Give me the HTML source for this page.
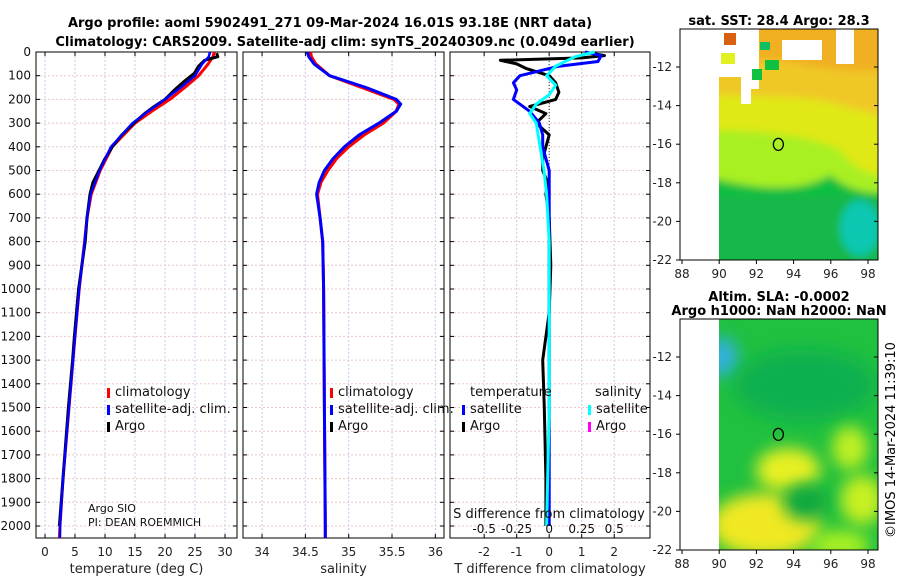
<!DOCTYPE html>
<html><head><meta charset="utf-8"><style>
body{margin:0;background:#fff;font-family:"Liberation Sans","DejaVu Sans",sans-serif}
svg text{font-family:"DejaVu Sans","Liberation Sans",sans-serif}
</style></head><body>
<svg id="c" width="900" height="580" xmlns="http://www.w3.org/2000/svg">
<defs>
<filter id="bl" x="-50%" y="-50%" width="200%" height="200%"><feGaussianBlur stdDeviation="8"/></filter>
<filter id="bs" x="-10%" y="-10%" width="120%" height="120%"><feGaussianBlur stdDeviation="4"/></filter>
<clipPath id="m1"><rect x="719" y="29" width="159" height="231"/></clipPath>
<clipPath id="m2"><rect x="719" y="319" width="159" height="231"/></clipPath>
</defs>
<text x="330" y="27" font-size="13" font-weight="bold" text-anchor="middle">Argo profile: aoml 5902491_271 09-Mar-2024 16.01S 93.18E (NRT data)</text>
<text x="345" y="46" font-size="13" font-weight="bold" text-anchor="middle">Climatology: CARS2009. Satellite-adj clim: synTS_20240309.nc (0.049d earlier)</text>
<g id="panels"></g>
<g id="maps"></g>
</svg>
<script>
// ---- data ----
const depthT = [0,20,50,100,150,200,250,300,400,500,600,700,800,1000,1200,1500,1800,2000,2050];
const climTemp = [28.2,28.0,27.2,25.6,23.3,20.8,17.8,15.0,11.2,9.2,7.7,7.0,6.6,5.7,5.0,4.0,3.0,2.5,2.4];
const satTemp  = [27.5,27.3,26.2,25.0,22.6,20.0,17.2,14.6,11.0,9.1,7.6,7.0,6.6,5.7,5.0,4.0,3.0,2.5,2.5];
const argoDepth = [5,20,35,60,90,120,160,200,230,260,300,350,400,450,500,550,600,700,800,1000,1200,1300,1500,1800,2000];
const argoTemp = [28.6,28.8,26.6,25.6,24.9,23.4,21.6,20.0,18.2,16.6,14.8,12.8,11.2,10.0,9.0,8.0,7.5,7.0,6.7,5.6,4.9,4.6,3.9,3.0,2.4];
const depthS = [0,20,50,100,150,200,220,250,300,350,400,450,500,550,600,700,800,1000,1500,2000,2050];
const climSal = [34.56,34.57,34.62,34.78,35.15,35.52,35.58,35.55,35.40,35.18,35.00,34.86,34.76,34.68,34.64,34.67,34.70,34.71,34.72,34.73,34.73];
const satSal  = [34.52,34.54,34.6,34.78,35.2,35.55,35.6,35.55,35.35,35.12,34.95,34.82,34.72,34.66,34.63,34.67,34.70,34.71,34.72,34.73,34.73];
const argoSal = [34.55,34.56,34.61,34.77,35.15,35.52,35.58,35.54,35.38,35.15,34.97,34.84,34.74,34.67,34.64,34.67,34.70,34.71,34.72,34.73,34.73];
const diffDepthB = [0,15,40,60,100,130,160,200,250,300,350,400,450,500,600,700,1000,1500,2000];
const diffTsat = [1.1,1.6,1.5,0.3,-0.9,-1.1,-1.0,-1.1,-0.6,-0.3,-0.2,-0.2,-0.1,0.0,0.0,0.0,0.0,0.0,0.0];
const diffDepthK = [5,15,25,35,50,70,100,130,170,200,230,260,300,350,400,450,500,550,600,700,900,1100,1300,1500,1800,2000];
const diffTargo = [1.3,1.7,1.0,-1.5,-1.0,-0.7,0.0,0.2,0.3,0.2,-0.6,-0.1,-0.4,0.0,-0.1,-0.2,-0.2,-0.05,-0.1,0.0,0.05,0.0,-0.2,-0.15,-0.1,-0.1];
const diffDepthC = [0,20,60,100,140,180,220,260,300,400,500,600,800,1000,1500,2000];
const diffSsat = [0.35,0.2,0.05,-0.02,0.05,0.0,-0.1,-0.15,-0.1,-0.07,-0.04,-0.02,0.0,0.0,0.0,-0.02];
const depthTicks = [0,100,200,300,400,500,600,700,800,900,1000,1100,1200,1300,1400,1500,1600,1700,1800,1900,2000];
const tempTicks = [0,5,10,15,20,25,30];
const salTicks = [34,34.5,35,35.5,36];
const tdTicks = [-2,-1,0,1,2];
const sdTicks = [-0.5,-0.25,0,0.25,0.5];
const sdTickLabels = ['-0.5','-0.25','0','0.25','0.5'];
const latTicks = [-12,-14,-16,-18,-20,-22];
const lonTicks = [88,90,92,94,96,98];

const NS='http://www.w3.org/2000/svg';
const P=document.getElementById('panels');
function el(t,a,p){const e=document.createElementNS(NS,t);for(const k in a)e.setAttribute(k,a[k]);(p||P).appendChild(e);return e;}
const Y=d=>52+d*0.237;
const top0=52, bot=538;
function panel(x0,x1,xmin,xmax,ticks,labels,xlabel,name){
  const X=v=>x0+(v-xmin)/(xmax-xmin)*(x1-x0);
  const g=el('g',{});
  
  
  ticks.forEach(t=>{el('line',{x1:X(t),x2:X(t),y1:top0,y2:bot,stroke:'#c8c8f0','stroke-width':1,'stroke-dasharray':'2,2'},g);
    el('line',{x1:X(t),x2:X(t),y1:bot,y2:bot-4,stroke:'#000'},g);el('line',{x1:X(t),x2:X(t),y1:top0,y2:top0+4,stroke:'#000'},g);});
  depthTicks.forEach(d=>{el('line',{x1:x0,x2:x1,y1:Y(d),y2:Y(d),stroke:'#e8c8c8','stroke-width':1,'stroke-dasharray':'2,2'},g);
    el('line',{x1:x0,x2:x0+4,y1:Y(d),y2:Y(d),stroke:'#000'},g);el('line',{x1:x1-4,x2:x1,y1:Y(d),y2:Y(d),stroke:'#000'},g);});
  el('rect',{x:x0,y:top0,width:x1-x0,height:bot-top0,fill:'none',stroke:'#000'},g);
  ticks.forEach((t,i)=>{const tx=el('text',{x:X(t),y:556,'font-size':12,'text-anchor':'middle',fill:'#222'},g);tx.textContent=labels[i];});
  const xl=el('text',{x:(x0+x1)/2,y:573,'font-size':13,'text-anchor':'middle',fill:'#222'},g);xl.textContent=xlabel;
  return X;
}
function line(X,ds,vs,col,w,name){
  const pts=ds.map((d,i)=>X(vs[i]).toFixed(1)+','+Y(d).toFixed(1)).join(' ');
  const e=el('polyline',{points:pts,fill:'none',stroke:col,'stroke-width':w,'stroke-linejoin':'round'});
  
  
}
function txt(x,y,s,size,name,anchor){const t=el('text',{x:x,y:y,'font-size':size,'text-anchor':anchor||'start',fill:'#111'});t.textContent=s;
  
  return t;}
depthTicks.forEach(d=>{txt(31,Y(d)+4,String(d),12,'depth-tick-label','end');});
const X1=panel(36,237,-1.5,32,tempTicks,tempTicks.map(String),'temperature (deg C)','temperature-panel');
line(X1,depthT,climTemp,'#f00',3,'temp-climatology-line');
line(X1,argoDepth,argoTemp,'#000',3,'temp-argo-line');
line(X1,depthT,satTemp,'#00f',2.5,'temp-satellite-line');
const X2=panel(243,444,33.78,36.1,salTicks,salTicks.map(String),'salinity','salinity-panel');
line(X2,depthS.slice(0,-1),argoSal.slice(0,-1),'#000',2,'sal-argo-line');
line(X2,depthS,climSal,'#f00',3,'sal-climatology-line');
line(X2,depthS,satSal,'#00f',3,'sal-satellite-line');
const X3=panel(450,650,-3.05,3.1,tdTicks,tdTicks.map(String),'T difference from climatology','difference-panel');
const XS=v=>X3(v*4);
el('line',{x1:X3(0),x2:X3(0),y1:top0,y2:Y(2000),stroke:'#333','stroke-dasharray':'1,2'});
line(X3,diffDepthK,diffTargo,'#000',3,'tdiff-argo-line');
line(X3,diffDepthB,diffTsat,'#00f',3,'tdiff-satellite-line');
line(XS,diffDepthC,diffSsat,'#0ff',3,'sdiff-satellite-line');
txt(549,518,'S difference from climatology',13,'s-axis-title','middle');
sdTicks.forEach((s,i)=>txt(XS(s),533,sdTickLabels[i],12,'s-tick-label','middle'));
function leg(x,y,col,s){el('rect',{x:x,y:y-8,width:3,height:10,fill:col});txt(x+8,y,s,13,'legend-entry');}
leg(107,396,'#f00','climatology');leg(107,413,'#00f','satellite-adj. clim.');leg(107,430,'#000','Argo');
leg(330,396,'#f00','climatology');leg(330,413,'#00f','satellite-adj. clim.');leg(330,430,'#000','Argo');
txt(470,396,'temperature',13,'legend-title-temperature');txt(595,396,'salinity',13,'legend-title-salinity');
leg(462,413,'#00f','satellite');leg(462,430,'#000','Argo');
leg(588,413,'#0ff','satellite');leg(588,430,'#f0f','Argo');
txt(88,512,'Argo SIO',11,'institution-label');txt(88,526,'PI: DEAN ROEMMICH',11,'pi-label');

// ---- maps ----
const M=document.getElementById('maps');
function mel(t,a,p){const e=document.createElementNS(NS,t);for(const k in a)e.setAttribute(k,a[k]);(p||M).appendChild(e);return e;}
function mapAxes(top,name,titles){
  const LX=v=>682+(v-88)*18.6, LY=v=>top+38+(-12-v)*19.3;
  const g=mel('g',{});
  
  
  mel('rect',{x:680,y:top,width:198,height:231,fill:'none',stroke:'#000'},g);
  latTicks.forEach(l=>{mel('line',{x1:680,x2:676,y1:LY(l),y2:LY(l),stroke:'#000'},g);mel('line',{x1:878,x2:874,y1:LY(l),y2:LY(l),stroke:'#000'},g);
    const t=mel('text',{x:672,y:LY(l)+4,'font-size':12,'text-anchor':'end',fill:'#222'},g);t.textContent=String(l);});
  lonTicks.forEach(l=>{mel('line',{x1:LX(l),x2:LX(l),y1:top+231,y2:top+235,stroke:'#000'},g);
    const t=mel('text',{x:LX(l),y:top+249,'font-size':12,'text-anchor':'middle',fill:'#222'},g);t.textContent=String(l);});
  titles.forEach((s,i)=>{const t=mel('text',{x:779,y:top-14*(titles.length-1-i)-4,'font-size':13,'font-weight':'bold','text-anchor':'middle'},g);t.textContent=s;});
  mel('ellipse',{cx:LX(93.18),cy:LY(-16.01),rx:5,ry:6,fill:'none',stroke:'#000','stroke-width':1.3},g);
  return g;
}
// SST map
const s1=mel('g',{'clip-path':'url(#m1)'});

const b1=mel('g',{filter:'url(#bs)'},s1);
mel('rect',{x:700,y:10,width:200,height:270,fill:'#10c040'},b1);
mel('path',{d:'M700,10 H900 V190 Q860,200 830,175 Q790,200 700,175 Z',fill:'#a8f020'},b1);
mel('path',{d:'M700,10 H900 V175 Q860,180 840,150 Q800,130 700,130 Z',fill:'#e0e818'},b1);
mel('path',{d:'M700,10 H900 V120 Q860,110 820,100 Q780,95 700,95 Z',fill:'#f0c828'},b1);
mel('path',{d:'M700,10 H900 V70 Q840,75 780,60 L700,60 Z',fill:'#f0b020'},b1);
mel('rect',{x:700,y:195,width:200,height:85,fill:'#18b848'},b1);
mel('ellipse',{cx:860,cy:228,rx:20,ry:28,fill:'#10c8b0'},b1);
mel('rect',{x:719,y:29,width:22,height:48,fill:'#fff'},s1);
mel('rect',{x:724,y:33,width:12,height:12,fill:'#d86010'},s1);
mel('rect',{x:721,y:53,width:14,height:11,fill:'#e0f020'},s1);
mel('rect',{x:741,y:29,width:10,height:75,fill:'#fff'},s1);
mel('rect',{x:751,y:29,width:8,height:60,fill:'#fff'},s1);
mel('rect',{x:782,y:40,width:40,height:20,fill:'#fff'},s1);
mel('rect',{x:836,y:29,width:18,height:35,fill:'#fff'},s1);
mel('rect',{x:760,y:42,width:10,height:8,fill:'#10c060'},s1);
mel('rect',{x:765,y:60,width:14,height:10,fill:'#10c040'},s1);
mel('rect',{x:752,y:69,width:10,height:11,fill:'#10c040'},s1);
mapAxes(29,'sst-map',['sat. SST: 28.4 Argo: 28.3']);
// SLA map
const s2=mel('g',{'clip-path':'url(#m2)'});

mel('rect',{x:719,y:319,width:159,height:231,fill:'#20c040'},s2);
mel('ellipse',{cx:722,cy:357,rx:16,ry:20,fill:'#30b0e0',filter:'url(#bl)'},s2);
mel('ellipse',{cx:805,cy:385,rx:70,ry:35,fill:'#10b050',filter:'url(#bl)'},s2);
mel('ellipse',{cx:850,cy:448,rx:18,ry:22,fill:'#c0f020',filter:'url(#bl)'},s2);
mel('ellipse',{cx:788,cy:470,rx:32,ry:22,fill:'#e8f020',filter:'url(#bl)'},s2);
mel('ellipse',{cx:765,cy:525,rx:55,ry:32,fill:'#f0e820',filter:'url(#bl)'},s2);
mel('ellipse',{cx:862,cy:500,rx:22,ry:25,fill:'#c8f020',filter:'url(#bl)'},s2);
mel('ellipse',{cx:805,cy:502,rx:22,ry:18,fill:'#10a840',filter:'url(#bl)'},s2);
mel('ellipse',{cx:840,cy:545,rx:30,ry:15,fill:'#a8f020',filter:'url(#bl)'},s2);
mapAxes(319,'sla-map',['Altim. SLA: -0.0002','Argo h1000: NaN h2000: NaN']);
const cr=mel('text',{x:895,y:440,'font-size':13,'text-anchor':'middle',transform:'rotate(-90 895 440)'});
cr.textContent='©IMOS 14-Mar-2024 11:39:10';


</script>
</body></html>
